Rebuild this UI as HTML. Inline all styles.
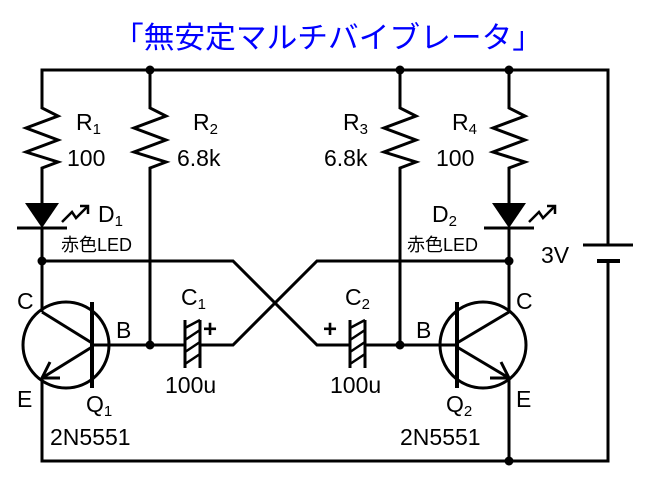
<!DOCTYPE html>
<html><head><meta charset="utf-8"><style>
html,body{margin:0;padding:0;background:#fff;width:650px;height:485px;overflow:hidden}
text{font-family:"Liberation Sans","Noto Sans CJK JP",sans-serif;fill:#000}
</style></head><body>
<svg width="650" height="485" viewBox="0 0 650 485" xmlns="http://www.w3.org/2000/svg">
<text x="113" y="48" font-size="30" textLength="430" lengthAdjust="spacingAndGlyphs" style="fill:#0000ff">「無安定マルチバイブレータ」</text>
<g stroke="#000" stroke-width="3" fill="none" stroke-linejoin="miter">
<polyline points="42,100 42,70 608,70 608,245"/>
<polyline points="608,261 608,461 42,461 42,378"/>
<line x1="583" y1="245" x2="633" y2="245"/>
<line x1="597" y1="261" x2="620" y2="261" stroke-width="4"/>
<polyline points="42,100 42,108 58,116 26,128 58,140 26,152 58,162 42,168 42,203"/>
<polyline points="150,70 150,108 166,116 134,128 166,140 134,152 166,162 150,168 150,345"/>
<polyline points="400,70 400,108 416,116 384,128 416,140 384,152 416,162 400,168 400,345"/>
<polyline points="509,70 509,108 525,116 493,128 525,140 493,152 525,162 509,168 509,203"/>
<line x1="17" y1="228" x2="67" y2="228"/>
<line x1="484" y1="228" x2="534" y2="228"/>
<line x1="42" y1="228" x2="42" y2="312"/>
<line x1="509" y1="228" x2="509" y2="312"/>
<polyline points="42,261 233,261 317,345 350,345"/>
<polyline points="509,261 317,261 233,345 200,345"/>
<line x1="150" y1="345" x2="185" y2="345"/>
<line x1="365" y1="345" x2="457" y2="345"/>
<line x1="92" y1="345" x2="150" y2="345"/>
<line x1="185" y1="320" x2="185" y2="368"/>
<line x1="200" y1="320" x2="200" y2="368"/>
<line x1="350" y1="320" x2="350" y2="368"/>
<line x1="365" y1="320" x2="365" y2="368"/>
<g stroke-width="2.5">
<line x1="185" y1="328" x2="200" y2="320"/><line x1="185" y1="340" x2="200" y2="330"/><line x1="185" y1="352" x2="200" y2="342"/><line x1="185" y1="364" x2="200" y2="354"/>
<line x1="350" y1="328" x2="365" y2="320"/><line x1="350" y1="340" x2="365" y2="330"/><line x1="350" y1="352" x2="365" y2="342"/><line x1="350" y1="364" x2="365" y2="354"/>
</g>
<circle cx="66" cy="345" r="43"/>
<line x1="92" y1="302" x2="92" y2="388" stroke-width="4"/>
<line x1="42" y1="312" x2="92" y2="343"/>
<line x1="92" y1="347" x2="42" y2="378"/>
<polyline points="50,362 42,378 60,378"/>
<circle cx="483" cy="345" r="43"/>
<line x1="457" y1="302" x2="457" y2="388" stroke-width="4"/>
<line x1="509" y1="312" x2="457" y2="343"/>
<line x1="457" y1="347" x2="509" y2="378"/>
<polyline points="490,378 509,378 501,362"/>
<line x1="509" y1="378" x2="509" y2="461"/>
<g stroke-width="2.5">
<polyline points="62,222 72,212 76,218 88,206"/><polyline points="80,206 88,206 88,214"/>
<polyline points="529,222 539,212 543,218 555,206"/><polyline points="547,206 555,206 555,214"/>
</g>
</g>
<polygon points="25,203 59,203 42,228" fill="#000"/>
<polygon points="492,203 526,203 509,228" fill="#000"/>
<g fill="#000">
<circle cx="150" cy="70" r="4.5"/><circle cx="400" cy="70" r="4.5"/><circle cx="509" cy="70" r="4.5"/>
<circle cx="42" cy="261" r="4.5"/><circle cx="509" cy="261" r="4.5"/>
<circle cx="150" cy="345" r="4.5"/><circle cx="400" cy="345" r="4.5"/><circle cx="509" cy="461" r="4.5"/>
</g>
<g font-size="23">
<text x="76" y="130">R<tspan font-size="15" dy="4">1</tspan></text>
<text x="67" y="166">100</text>
<text x="193" y="130">R<tspan font-size="15" dy="4">2</tspan></text>
<text x="177" y="166">6.8k</text>
<text x="343" y="130">R<tspan font-size="15" dy="4">3</tspan></text>
<text x="324" y="166">6.8k</text>
<text x="452" y="130">R<tspan font-size="15" dy="4">4</tspan></text>
<text x="436" y="166">100</text>
<text x="98" y="222">D<tspan font-size="15" dy="4">1</tspan></text>
<text x="432" y="222">D<tspan font-size="15" dy="4">2</tspan></text>
<text x="541" y="263">3V</text>
<text x="17" y="309">C</text>
<text x="516" y="309">C</text>
<text x="17" y="407">E</text>
<text x="516" y="407">E</text>
<text x="116" y="338">B</text>
<text x="416" y="338">B</text>
<text x="181" y="305">C<tspan font-size="15" dy="4">1</tspan></text>
<text x="345" y="305">C<tspan font-size="15" dy="4">2</tspan></text>
<text x="165" y="393">100u</text>
<text x="330" y="393">100u</text>
<text x="86" y="412">Q<tspan font-size="15" dy="4">1</tspan></text>
<text x="446" y="412">Q<tspan font-size="15" dy="4">2</tspan></text>
<text x="50" y="445">2N5551</text>
<text x="400" y="445">2N5551</text>
</g>
<text x="203" y="337" font-size="24" font-weight="bold">+</text>
<text x="323" y="337" font-size="24" font-weight="bold">+</text>
<g font-size="18">
<text x="61" y="251">赤色LED</text>
<text x="407" y="251">赤色LED</text>
</g>
</svg>
</body></html>
